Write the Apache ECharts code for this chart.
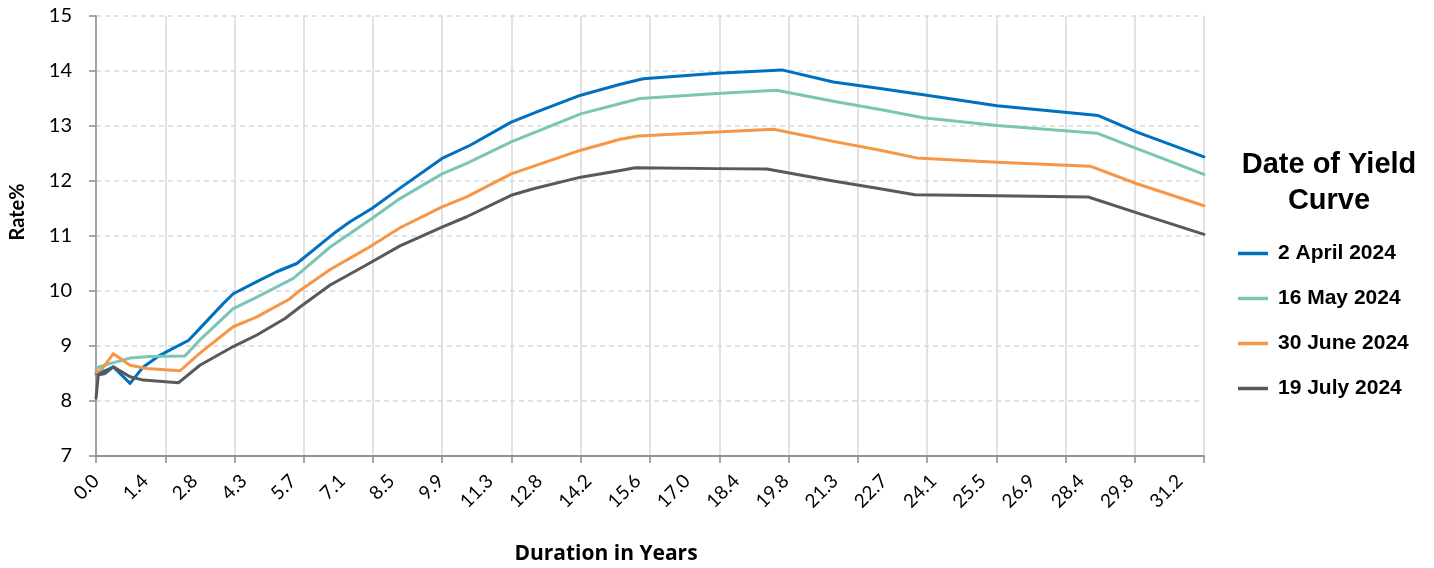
<!DOCTYPE html>
<html><head><meta charset="utf-8">
<script src="https://cdn.jsdelivr.net/npm/echarts@6/dist/echarts.min.js"></script>
<style>html,body{margin:0;padding:0;background:#fff}#c{width:1434px;height:568px}</style>
</head><body><div id="c"></div>
<script>
// x tick labels (duration in years) shown every LABEL_STEP years
const tickLabels = ['0.0','1.4','2.8','4.3','5.7','7.1','8.5','9.9','11.3','12.8','14.2','15.6','17.0','18.4','19.8','21.3','22.7','24.1','25.5','26.9','28.4','29.8','31.2'];
const yTicks = [7, 15, 1]; // min, max, step

const seriesNames = ['2 April 2024', '16 May 2024', '30 June 2024', '19 July 2024'];
const seriesColors = ['#0070C0', '#7AC5B6', '#F79646', '#595959'];

const aprilDur  = [0, 0.26, 0.50, 0.98, 1.36, 1.84, 2.23, 2.66, 2.99, 3.66, 3.95, 4.63, 5.20, 5.78, 6.83, 7.31, 7.94, 8.75, 9.96, 10.77, 11.95, 12.78, 13.95, 15.09, 15.75, 17.87, 19.74, 21.22, 22.57, 23.91, 25.93, 28.85, 29.96, 31.89];
const aprilRate = [8.50, 8.55, 8.62, 8.32, 8.62, 8.83, 8.96, 9.10, 9.32, 9.77, 9.95, 10.17, 10.35, 10.50, 11.04, 11.26, 11.50, 11.87, 12.41, 12.65, 13.07, 13.28, 13.56, 13.76, 13.86, 13.96, 14.02, 13.80, 13.68, 13.56, 13.37, 13.19, 12.89, 12.44];

const mayDur  = [0, 0.40, 0.98, 1.55, 2.56, 2.99, 3.95, 4.63, 5.68, 6.74, 7.94, 8.75, 9.96, 10.67, 11.95, 13.95, 15.09, 15.66, 17.87, 19.59, 21.22, 22.57, 23.81, 25.93, 28.81, 29.96, 31.89];
const mayRate = [8.60, 8.68, 8.78, 8.81, 8.82, 9.11, 9.68, 9.89, 10.23, 10.80, 11.32, 11.68, 12.13, 12.32, 12.71, 13.22, 13.41, 13.50, 13.59, 13.65, 13.45, 13.30, 13.15, 13.01, 12.87, 12.59, 12.12];

const juneDur  = [0, 0.17, 0.50, 0.98, 1.46, 2.42, 2.99, 3.95, 4.63, 5.56, 5.87, 6.74, 7.79, 8.75, 9.96, 10.67, 11.95, 13.95, 15.09, 15.61, 17.87, 19.50, 21.22, 22.57, 23.62, 25.93, 28.61, 29.96, 31.89];
const juneRate = [8.52, 8.58, 8.86, 8.65, 8.59, 8.55, 8.87, 9.35, 9.53, 9.85, 10.01, 10.39, 10.77, 11.15, 11.53, 11.71, 12.13, 12.56, 12.76, 12.82, 12.89, 12.94, 12.72, 12.56, 12.42, 12.34, 12.27, 11.95, 11.55];

const julyDur  = [0, 0.066, 0.26, 0.50, 0.98, 1.36, 2.37, 2.99, 3.95, 4.63, 5.44, 5.87, 6.74, 7.69, 8.75, 9.96, 10.67, 11.95, 12.59, 13.95, 15.09, 15.52, 17.87, 19.31, 21.22, 22.57, 23.57, 25.93, 28.56, 29.96, 31.89];
const julyRate = [8.05, 8.47, 8.50, 8.62, 8.44, 8.38, 8.33, 8.65, 8.99, 9.20, 9.50, 9.71, 10.11, 10.44, 10.82, 11.16, 11.35, 11.74, 11.86, 12.07, 12.19, 12.24, 12.225, 12.22, 12.00, 11.86, 11.75, 11.73, 11.71, 11.42, 11.03];

const LABEL_STEP = 1.4177;   // years between x labels
const TICK_STEP = 1.993125;  // years between x tick marks / vertical grid lines
const X_MAX = TICK_STEP * 16;

const durs = [aprilDur, mayDur, juneDur, julyDur];
const rates = [aprilRate, mayRate, juneRate, julyRate];

const axisGray = '#8C8C8C';
const gridGray = '#D9D9D9';
const numFont = 'Lato, "Open Sans", sans-serif';
const arial = '"Liberation Sans", Arial, sans-serif';

const chart = echarts.init(document.getElementById('c'), null, {renderer: 'canvas'});
chart.setOption({
  animation: false,
  backgroundColor: '#fff',
  grid: {left: 96, right: 230, top: 16, bottom: 112, containLabel: false},
  xAxis: [
    {
      type: 'value', min: 0, max: X_MAX, interval: LABEL_STEP, position: 'bottom',
      axisLine: {show: true, lineStyle: {color: axisGray, width: 1.5}},
      axisTick: {show: false},
      splitLine: {show: false},
      axisLabel: {
        rotate: 45, margin: 22, fontSize: 19, color: '#000', fontFamily: numFont,
        formatter: function (v) {
          const k = Math.round(v / LABEL_STEP);
          if (Math.abs(v - k * LABEL_STEP) > 1e-3 || k >= tickLabels.length) return '';
          return tickLabels[k];
        }
      }
    },
    {
      type: 'value', min: 0, max: X_MAX, interval: TICK_STEP, position: 'bottom',
      axisLine: {show: true, lineStyle: {color: axisGray, width: 1.5}},
      axisTick: {show: true, length: 7, lineStyle: {color: axisGray, width: 1.5}},
      axisLabel: {show: false},
      splitLine: {show: true, lineStyle: {color: gridGray, width: 1.5, type: 'solid'}}
    }
  ],
  yAxis: {
    type: 'value', min: yTicks[0], max: yTicks[1], interval: yTicks[2],
    axisLine: {show: true, lineStyle: {color: axisGray, width: 1.5}},
    axisTick: {show: true, length: 7, lineStyle: {color: axisGray, width: 1.5}},
    axisLabel: {fontSize: 20, color: '#000', margin: 24, fontFamily: numFont},
    splitLine: {show: true, lineStyle: {color: gridGray, width: 1.5, type: [5, 4]}}
  },
  legend: {
    orient: 'vertical', left: 1233, top: 238,
    icon: 'rect', itemWidth: 30, itemHeight: 3.5, itemGap: 24,
    textStyle: {fontSize: 21, fontWeight: 'bold', color: '#000', fontFamily: arial, lineHeight: 21, padding: [0, 0, 0, 5]},
    data: seriesNames
  },
  graphic: [
    {type: 'text', x: 1329, y: 147, style: {text: 'Date of Yield\nCurve', font: 'bold 29px "Liberation Sans", Arial, sans-serif', lineHeight: 36, align: 'center', verticalAlign: 'top', fill: '#000'}},
    {type: 'text', x: 18, y: 212, rotation: Math.PI / 2, style: {text: 'Rate%', font: 'bold 20px Lato, sans-serif', align: 'center', verticalAlign: 'middle', fill: '#000'}},
    {type: 'text', x: 606, y: 554, style: {text: 'Duration in Years', font: 'bold 21px "Open Sans", sans-serif', align: 'center', verticalAlign: 'middle', fill: '#000'}}
  ],
  series: seriesNames.map(function (name, i) {
    return {
      name: name, type: 'line', xAxisIndex: 0,
      symbol: 'none', showSymbol: false,
      color: seriesColors[i],
      lineStyle: {width: 3, color: seriesColors[i], join: 'round', cap: 'round'},
      data: durs[i].map(function (d, j) { return [d, rates[i][j]]; })
    };
  })
});
</script>
</body></html>
